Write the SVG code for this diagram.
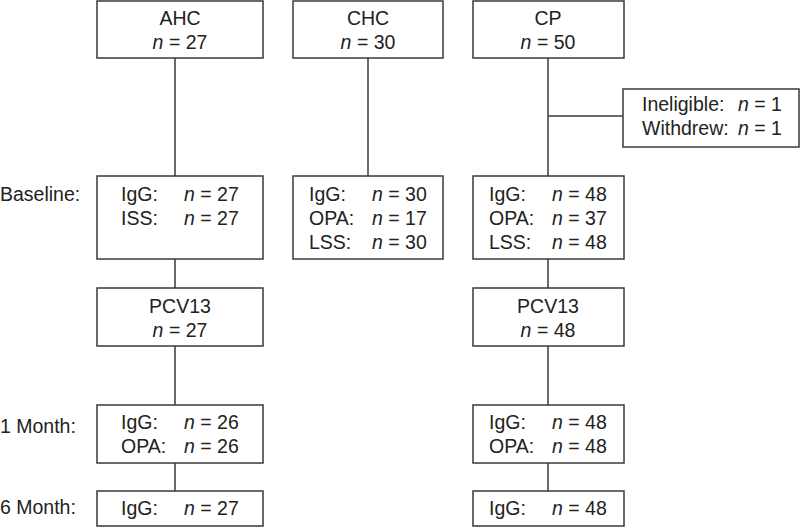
<svg xmlns="http://www.w3.org/2000/svg" width="800" height="528" viewBox="0 0 800 528">
<style>
rect{fill:#fff;stroke:#3a3a3a;stroke-width:1.5}
line{stroke:#3a3a3a;stroke-width:1.5}
text{font-family:"Liberation Sans",Arial,sans-serif;font-size:19.5px;fill:#222}
.c{text-anchor:middle}
.i{font-style:italic}
</style>
<rect width="800" height="528" fill="#fff" style="stroke:none"/>
<g id="connectors">
<line x1="175" y1="58" x2="175" y2="176"/>
<line x1="175" y1="259" x2="175" y2="288"/>
<line x1="175" y1="346" x2="175" y2="405"/>
<line x1="175" y1="463" x2="175" y2="491"/>
<line x1="368" y1="58" x2="368" y2="176"/>
<line x1="548" y1="58" x2="548" y2="176"/>
<line x1="548" y1="116" x2="623" y2="116"/>
<line x1="548" y1="259" x2="548" y2="288"/>
<line x1="548" y1="346" x2="548" y2="405"/>
<line x1="548" y1="463" x2="548" y2="491"/>
</g>
<g id="labels">
<text x="0" y="201">Baseline:</text>
<text x="0" y="433">1 Month:</text>
<text x="0" y="514">6 Month:</text>
</g>
<g id="ahc">
<rect x="97" y="1" width="166" height="57"/>
<text class="c" x="180" y="25">AHC</text>
<text class="c" x="180" y="49"><tspan class="i">n</tspan> = 27</text>
</g>
<g id="chc">
<rect x="293" y="1" width="150" height="57"/>
<text class="c" x="368" y="25">CHC</text>
<text class="c" x="368" y="49"><tspan class="i">n</tspan> = 30</text>
</g>
<g id="cp">
<rect x="473" y="1" width="151" height="57"/>
<text class="c" x="548" y="25">CP</text>
<text class="c" x="548" y="49"><tspan class="i">n</tspan> = 50</text>
</g>
<g id="excluded">
<rect x="623" y="89" width="176" height="58"/>
<text x="642" y="111">Ineligible:</text>
<text x="738" y="111"><tspan class="i">n</tspan> = 1</text>
<text x="642" y="135">Withdrew:</text>
<text x="738" y="135"><tspan class="i">n</tspan> = 1</text>
</g>
<g id="ahc-baseline">
<rect x="97" y="176" width="166" height="83"/>
<text x="121" y="201">IgG:</text>
<text x="184" y="201"><tspan class="i">n</tspan> = 27</text>
<text x="121" y="225">ISS:</text>
<text x="184" y="225"><tspan class="i">n</tspan> = 27</text>
</g>
<g id="chc-baseline">
<rect x="293" y="176" width="150" height="83"/>
<text x="309" y="201">IgG:</text>
<text x="372" y="201"><tspan class="i">n</tspan> = 30</text>
<text x="309" y="225">OPA:</text>
<text x="372" y="225"><tspan class="i">n</tspan> = 17</text>
<text x="309" y="249">LSS:</text>
<text x="372" y="249"><tspan class="i">n</tspan> = 30</text>
</g>
<g id="cp-baseline">
<rect x="473" y="176" width="151" height="83"/>
<text x="489" y="201">IgG:</text>
<text x="552" y="201"><tspan class="i">n</tspan> = 48</text>
<text x="489" y="225">OPA:</text>
<text x="552" y="225"><tspan class="i">n</tspan> = 37</text>
<text x="489" y="249">LSS:</text>
<text x="552" y="249"><tspan class="i">n</tspan> = 48</text>
</g>
<g id="ahc-pcv13">
<rect x="97" y="288" width="166" height="58"/>
<text class="c" x="180" y="313">PCV13</text>
<text class="c" x="180" y="337"><tspan class="i">n</tspan> = 27</text>
</g>
<g id="cp-pcv13">
<rect x="473" y="288" width="151" height="58"/>
<text class="c" x="548" y="313">PCV13</text>
<text class="c" x="548" y="337"><tspan class="i">n</tspan> = 48</text>
</g>
<g id="ahc-1month">
<rect x="97" y="405" width="166" height="58"/>
<text x="121" y="429">IgG:</text>
<text x="184" y="429"><tspan class="i">n</tspan> = 26</text>
<text x="121" y="453">OPA:</text>
<text x="184" y="453"><tspan class="i">n</tspan> = 26</text>
</g>
<g id="cp-1month">
<rect x="473" y="405" width="151" height="58"/>
<text x="489" y="429">IgG:</text>
<text x="552" y="429"><tspan class="i">n</tspan> = 48</text>
<text x="489" y="453">OPA:</text>
<text x="552" y="453"><tspan class="i">n</tspan> = 48</text>
</g>
<g id="ahc-6month">
<rect x="97" y="491" width="166" height="35"/>
<text x="121" y="515">IgG:</text>
<text x="184" y="515"><tspan class="i">n</tspan> = 27</text>
</g>
<g id="cp-6month">
<rect x="473" y="491" width="151" height="35"/>
<text x="489" y="515">IgG:</text>
<text x="552" y="515"><tspan class="i">n</tspan> = 48</text>
</g>
</svg>
